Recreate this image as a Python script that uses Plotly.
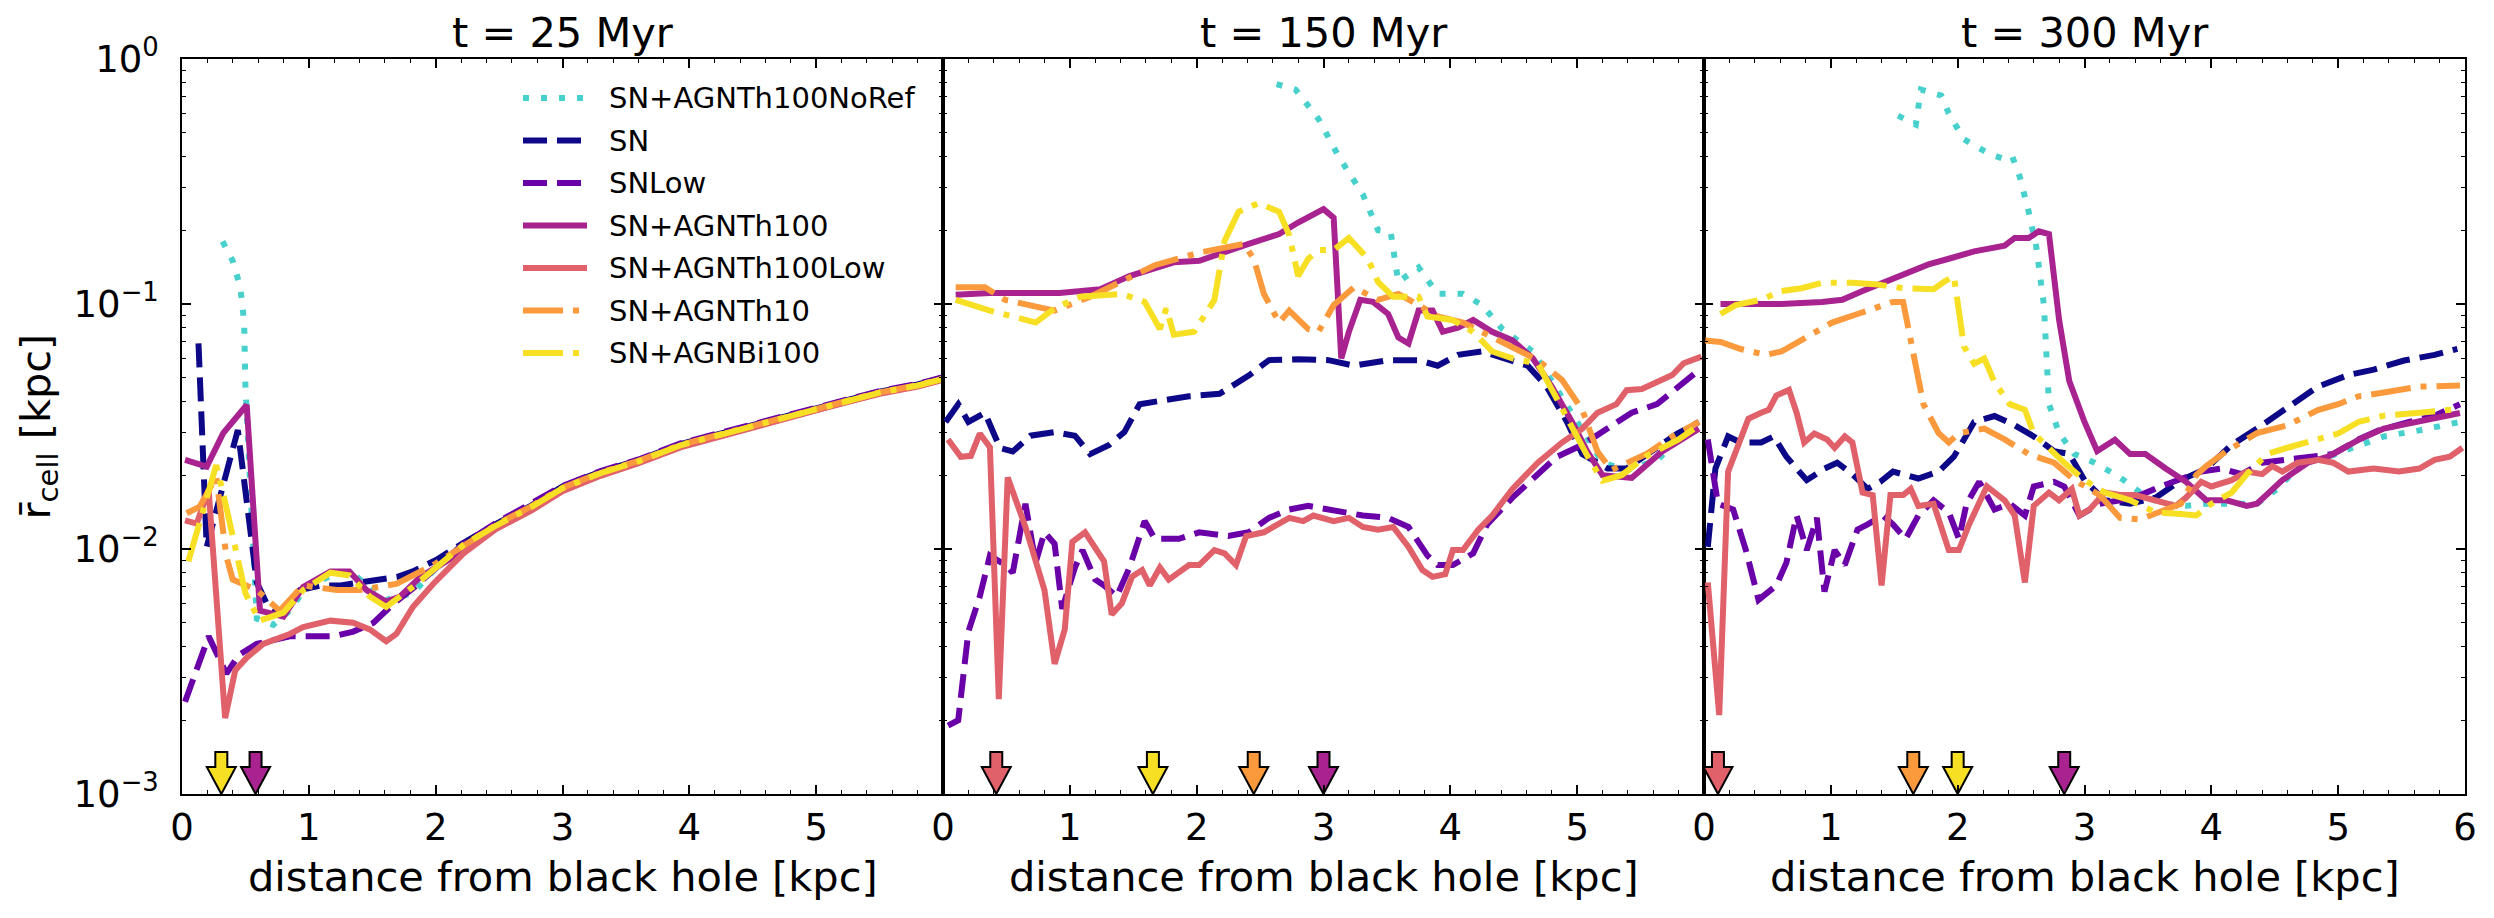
import plotly.graph_objects as go

FONT = "DejaVu Sans"
W, H = 2494, 918
ML, MR, MT, MB = 182, 29, 59, 124
PW = (W - ML - MR) / 3.0
PH = H - MT - MB

# ---------------- series meta ----------------
series_names = ["SN+AGNTh100NoRef", "SN", "SNLow", "SN+AGNTh100",
                "SN+AGNTh100Low", "SN+AGNTh10", "SN+AGNBi100"]
series_colors = ["#48d1cc", "#0d0887", "#6a00a8", "#a82290",
                 "#e0616a", "#fa9a3c", "#f7df24"]
series_dash = ["6px,12px", "24px,10px", "24px,10px", "solid", "solid",
               "40px,10px,6px,10px", "40px,10px,6px,10px"]
panel_titles = ["t = 25 Myr", "t = 150 Myr", "t = 300 Myr"]
x_label = "distance from black hole [kpc]"
y_label = "r\u0304<sub>cell</sub> [kpc]"
x_tick_vals = [[0, 1, 2, 3, 4, 5], [0, 1, 2, 3, 4, 5], [0, 1, 2, 3, 4, 5, 6]]
y_tick_vals = [0.001, 0.01, 0.1, 1.0]
y_tick_text = ["10<sup>\u22123</sup>", "10<sup>\u22122</sup>", "10<sup>\u22121</sup>", "10<sup>0</sup>"]

# ---------------- t = 25 Myr ----------------
t25_NoRef = [(0.32, 0.18), (0.40, 0.15), (0.46, 0.117), (0.49, 0.084), (0.50, 0.046),
             (0.59, 0.0052), (0.72, 0.0049), (0.85, 0.0056), (0.97, 0.0069), (1.22, 0.0080),
             (1.35, 0.0079), (1.48, 0.0070), (1.61, 0.0062), (1.82, 0.0066), (2.04, 0.0088),
             (2.22, 0.0105), (2.48, 0.0125), (2.75, 0.0148), (3.0, 0.0177), (3.3, 0.0204),
             (3.6, 0.0228), (3.93, 0.0265), (4.3, 0.0298), (4.7, 0.0337), (5.1, 0.0385),
             (5.5, 0.0435), (5.8, 0.0465), (6.0, 0.0495)]
t25_SN = [(0.13, 0.069), (0.195, 0.0102), (0.44, 0.0306), (0.59, 0.0073), (0.68, 0.0058),
          (0.77, 0.0055), (0.93, 0.0068), (1.1, 0.0071), (1.25, 0.0071), (1.4, 0.0073),
          (1.56, 0.0075), (1.7, 0.0077), (1.82, 0.0081), (2.0, 0.0090), (2.22, 0.0106),
          (2.48, 0.0127), (2.75, 0.0150), (3.0, 0.0180), (3.3, 0.0207), (3.6, 0.0231),
          (3.93, 0.0268), (4.3, 0.0301), (4.7, 0.0340), (5.1, 0.0389), (5.5, 0.0439),
          (5.8, 0.0470), (6.0, 0.0500)]
t25_SNLow = [(0.024, 0.00238), (0.21, 0.0044), (0.35, 0.0031), (0.45, 0.0037), (0.59, 0.0041),
             (0.85, 0.0044), (1.19, 0.0044), (1.35, 0.0046), (1.51, 0.0050), (1.67, 0.0060),
             (1.82, 0.0069), (1.98, 0.0082), (2.22, 0.0105), (2.48, 0.0128), (2.75, 0.0152),
             (3.0, 0.0181), (3.3, 0.0208), (3.6, 0.0232), (3.93, 0.0270), (4.3, 0.0303),
             (4.7, 0.0343), (5.1, 0.0391), (5.5, 0.0441), (5.8, 0.0472), (6.0, 0.0503)]
t25_Th100 = [(0.024, 0.0231), (0.195, 0.0217), (0.325, 0.0297), (0.51, 0.0387), (0.615, 0.0056),
             (0.8, 0.0053), (0.955, 0.0070), (1.17, 0.0081), (1.32, 0.0081), (1.455, 0.0068),
             (1.61, 0.0061), (1.72, 0.0064), (1.88, 0.0077), (2.09, 0.0090), (2.27, 0.0102),
             (2.48, 0.0123), (2.75, 0.0146), (3.0, 0.0175), (3.3, 0.0202), (3.6, 0.0226),
             (3.93, 0.0263), (4.3, 0.0296), (4.7, 0.0335), (5.1, 0.0383), (5.5, 0.0433),
             (5.8, 0.0463), (6.0, 0.0493)]
t25_Th100Low = [(0.024, 0.0131), (0.116, 0.0127), (0.21, 0.0174), (0.34, 0.00204), (0.42, 0.0032),
                (0.51, 0.0036), (0.64, 0.0041), (0.85, 0.0045), (0.955, 0.0048), (1.17, 0.0051),
                (1.35, 0.0050), (1.48, 0.0047), (1.61, 0.0042), (1.69, 0.0045), (1.82, 0.0058),
                (1.98, 0.0072), (2.22, 0.0096), (2.48, 0.0121), (2.75, 0.0143), (3.0, 0.0172),
                (3.3, 0.0199), (3.6, 0.0224), (3.93, 0.0260), (4.3, 0.0294), (4.7, 0.0333),
                (5.1, 0.0380), (5.5, 0.0430), (5.8, 0.0460), (6.0, 0.0490)]
t25_Th10 = [(0.037, 0.0140), (0.14, 0.0149), (0.27, 0.0197), (0.35, 0.0093), (0.40, 0.0075),
            (0.59, 0.0068), (0.77, 0.0056), (0.955, 0.0071), (1.22, 0.0068), (1.40, 0.0068),
            (1.69, 0.0072), (1.98, 0.0086), (2.17, 0.0099), (2.48, 0.0126), (2.75, 0.0149),
            (3.0, 0.0178), (3.3, 0.0205), (3.6, 0.0229), (3.93, 0.0266), (4.3, 0.0299),
            (4.7, 0.0338), (5.1, 0.0386), (5.5, 0.0436), (5.8, 0.0466), (6.0, 0.0496)]
t25_Bi100 = [(0.05, 0.0089), (0.27, 0.0220), (0.33, 0.0164), (0.50, 0.0066), (0.61, 0.0051),
             (0.80, 0.0055), (0.955, 0.0068), (1.17, 0.0080), (1.32, 0.0078), (1.48, 0.0064),
             (1.61, 0.0058), (1.82, 0.0070), (2.05, 0.0088), (2.22, 0.0104), (2.48, 0.0125),
             (2.75, 0.0148), (3.0, 0.0177), (3.3, 0.0204), (3.6, 0.0228), (3.93, 0.0265),
             (4.3, 0.0298), (4.7, 0.0337), (5.1, 0.0385), (5.5, 0.0435), (5.8, 0.0465), (6.0, 0.0495)]

# ---------------- t = 150 Myr ----------------
t150_NoRef = [(2.63, 0.79), (2.78, 0.75), (2.96, 0.57), (3.12, 0.40), (3.31, 0.28), (3.43, 0.20),
              (3.53, 0.196), (3.59, 0.123), (3.75, 0.141), (3.90, 0.11), (4.10, 0.11), (4.25, 0.099),
              (4.41, 0.079), (4.65, 0.064), (4.80, 0.0485), (4.94, 0.0369), (5.08, 0.028),
              (5.20, 0.0225), (5.39, 0.021), (5.63, 0.023), (5.82, 0.0288), (5.96, 0.032)]
t150_SN = [(0.02, 0.033), (0.12, 0.039), (0.20, 0.033), (0.33, 0.036), (0.45, 0.0258), (0.55, 0.025),
           (0.69, 0.029), (0.88, 0.030), (1.04, 0.029), (1.16, 0.0244), (1.31, 0.0266), (1.43, 0.030),
           (1.55, 0.039), (1.78, 0.041), (1.94, 0.042), (2.18, 0.043), (2.41, 0.051), (2.57, 0.059),
           (2.80, 0.0595), (3.04, 0.059), (3.24, 0.056), (3.51, 0.059), (3.75, 0.059), (3.90, 0.056),
           (4.06, 0.062), (4.25, 0.064), (4.41, 0.060), (4.61, 0.056), (4.76, 0.046), (4.92, 0.033),
           (5.04, 0.0244), (5.24, 0.0213), (5.39, 0.0213), (5.59, 0.025), (5.79, 0.0296), (5.96, 0.033)]
t150_SNLow = [(0.04, 0.0019), (0.12, 0.0020), (0.20, 0.0046), (0.29, 0.0064), (0.37, 0.0094),
              (0.49, 0.0086), (0.55, 0.0080), (0.65, 0.0153), (0.73, 0.0088), (0.80, 0.0117),
              (0.88, 0.0105), (0.94, 0.0057), (1.04, 0.0084), (1.10, 0.0099), (1.20, 0.0075),
              (1.27, 0.0071), (1.37, 0.0064), (1.47, 0.0084), (1.59, 0.0130), (1.67, 0.0110),
              (1.86, 0.0110), (2.02, 0.0117), (2.25, 0.0113), (2.41, 0.0117), (2.57, 0.0134),
              (2.73, 0.0145), (2.88, 0.0150), (3.04, 0.0145), (3.31, 0.0137), (3.51, 0.0134),
              (3.67, 0.0123), (3.82, 0.0094), (3.90, 0.0086), (4.02, 0.0086), (4.18, 0.0096),
              (4.29, 0.0126), (4.49, 0.0162), (4.69, 0.0202), (4.84, 0.0238), (5.04, 0.0266),
              (5.24, 0.031), (5.43, 0.036), (5.63, 0.039), (5.76, 0.0445), (5.90, 0.0513), (5.98, 0.0548)]
t150_Th100 = [(0.10, 0.109), (0.37, 0.111), (0.92, 0.111), (1.24, 0.115), (1.47, 0.13), (1.82, 0.148),
              (2.02, 0.15), (2.22, 0.164), (2.41, 0.176), (2.65, 0.193), (2.80, 0.215), (3.00, 0.244),
              (3.08, 0.225), (3.14, 0.060), (3.20, 0.077), (3.29, 0.104), (3.39, 0.102), (3.51, 0.091),
              (3.59, 0.073), (3.67, 0.069), (3.75, 0.094), (3.86, 0.094), (3.94, 0.077), (4.06, 0.080),
              (4.18, 0.086), (4.33, 0.077), (4.49, 0.071), (4.65, 0.060), (4.80, 0.046), (4.96, 0.033),
              (5.08, 0.025), (5.20, 0.020), (5.43, 0.0195), (5.67, 0.025), (5.96, 0.031)]
t150_Th100Low = [(0.04, 0.028), (0.14, 0.0238), (0.22, 0.024), (0.29, 0.0296), (0.37, 0.026),
                 (0.44, 0.00244), (0.51, 0.0196), (0.65, 0.0123), (0.80, 0.0068), (0.88, 0.0034),
                 (0.96, 0.0047), (1.02, 0.0107), (1.12, 0.0117), (1.27, 0.0089), (1.33, 0.0054),
                 (1.41, 0.0060), (1.49, 0.0077), (1.57, 0.0082), (1.63, 0.0071), (1.71, 0.0084),
                 (1.78, 0.0075), (1.94, 0.0086), (2.02, 0.0086), (2.14, 0.0099), (2.22, 0.0096),
                 (2.31, 0.0086), (2.39, 0.0113), (2.53, 0.0117), (2.73, 0.0134), (2.84, 0.0130),
                 (2.92, 0.0137), (3.08, 0.0130), (3.20, 0.0134), (3.31, 0.0123), (3.43, 0.0120),
                 (3.55, 0.0123), (3.67, 0.0102), (3.78, 0.0082), (3.86, 0.0077), (3.96, 0.0079),
                 (4.02, 0.0099), (4.10, 0.0099), (4.22, 0.0120), (4.33, 0.0137), (4.49, 0.0176),
                 (4.69, 0.0225), (4.88, 0.0272), (5.04, 0.031), (5.16, 0.036), (5.31, 0.039),
                 (5.39, 0.0445), (5.51, 0.045), (5.63, 0.048), (5.75, 0.0513), (5.84, 0.0573), (5.98, 0.061)]
t150_Th10 = [(0.10, 0.117), (0.33, 0.117), (0.49, 0.104), (0.88, 0.094), (1.16, 0.107), (1.35, 0.12),
             (1.67, 0.144), (2.02, 0.162), (2.37, 0.176), (2.45, 0.153), (2.53, 0.11), (2.65, 0.084),
             (2.73, 0.094), (2.88, 0.079), (2.96, 0.077), (3.08, 0.099), (3.24, 0.117), (3.43, 0.104),
             (3.59, 0.11), (3.75, 0.099), (3.90, 0.089), (4.10, 0.084), (4.29, 0.075), (4.49, 0.067),
             (4.69, 0.059), (4.88, 0.049), (5.04, 0.037), (5.16, 0.025), (5.27, 0.021), (5.55, 0.0245),
             (5.75, 0.0288), (5.96, 0.033)]
t150_Bi100 = [(0.10, 0.104), (0.22, 0.099), (0.37, 0.094), (0.73, 0.084), (0.88, 0.096), (1.08, 0.107),
              (1.41, 0.11), (1.59, 0.102), (1.71, 0.079), (1.76, 0.096), (1.82, 0.075), (1.98, 0.077),
              (2.14, 0.104), (2.22, 0.181), (2.33, 0.238), (2.49, 0.258), (2.65, 0.238), (2.73, 0.191),
              (2.80, 0.13), (2.88, 0.153), (2.96, 0.166), (3.08, 0.166), (3.20, 0.186), (3.35, 0.153),
              (3.43, 0.123), (3.55, 0.107), (3.75, 0.107), (3.82, 0.089), (4.02, 0.086), (4.18, 0.077),
              (4.33, 0.064), (4.49, 0.060), (4.69, 0.057), (4.84, 0.041), (4.96, 0.031), (5.08, 0.024),
              (5.20, 0.019), (5.35, 0.020), (5.55, 0.024), (5.80, 0.028), (5.96, 0.032)]

# ---------------- t = 300 Myr ----------------
t300_NoRef = [(1.53, 0.587), (1.67, 0.54), (1.71, 0.75), (1.87, 0.71), (1.93, 0.60), (2.05, 0.47),
              (2.25, 0.41), (2.37, 0.39), (2.43, 0.40), (2.49, 0.33), (2.56, 0.238), (2.62, 0.171),
              (2.68, 0.099), (2.70, 0.057), (2.72, 0.039), (2.80, 0.0297), (2.92, 0.0244), (3.08, 0.0225),
              (3.28, 0.0196), (3.44, 0.017), (3.60, 0.0153), (3.80, 0.015), (3.96, 0.0153), (4.16, 0.0153),
              (4.36, 0.0153), (4.52, 0.0176), (4.72, 0.0225), (4.92, 0.0238), (5.16, 0.0266),
              (5.36, 0.0288), (5.64, 0.0305), (5.96, 0.033)]
t300_SN = [(0.03, 0.0102), (0.09, 0.0213), (0.19, 0.0288), (0.29, 0.0272), (0.45, 0.0272), (0.55, 0.0288),
           (0.65, 0.0238), (0.81, 0.0191), (0.95, 0.0213), (1.05, 0.0225), (1.17, 0.0202), (1.29, 0.0176),
           (1.39, 0.0188), (1.49, 0.0207), (1.69, 0.0194), (1.85, 0.0207), (1.97, 0.0238), (2.13, 0.033),
           (2.29, 0.0349), (2.45, 0.032), (2.60, 0.0288), (2.76, 0.0251), (2.88, 0.0244), (3.00, 0.0191),
           (3.16, 0.0158), (3.36, 0.0153), (3.56, 0.0162), (3.76, 0.0191), (3.96, 0.0213), (4.16, 0.0266),
           (4.36, 0.031), (4.60, 0.0379), (4.84, 0.046), (5.08, 0.0513), (5.28, 0.054), (5.52, 0.0588),
           (5.76, 0.062), (5.94, 0.0656)]
t300_SNLow = [(0.03, 0.028), (0.11, 0.0153), (0.23, 0.0145), (0.33, 0.0099), (0.43, 0.0062), (0.57, 0.0071),
              (0.65, 0.0088), (0.73, 0.0137), (0.81, 0.0099), (0.89, 0.0134), (0.95, 0.0067), (1.03, 0.0099),
              (1.11, 0.0086), (1.21, 0.012), (1.29, 0.0126), (1.41, 0.0137), (1.49, 0.0126), (1.59, 0.011),
              (1.69, 0.0137), (1.81, 0.0158), (1.93, 0.0141), (2.01, 0.011), (2.07, 0.0153), (2.17, 0.0188),
              (2.29, 0.0145), (2.41, 0.0153), (2.53, 0.0137), (2.60, 0.018), (2.76, 0.0188), (2.84, 0.018),
              (2.96, 0.0137), (3.12, 0.0153), (3.28, 0.0158), (3.44, 0.0166), (3.60, 0.018), (3.76, 0.0194),
              (3.92, 0.0207), (4.08, 0.0213), (4.24, 0.0202), (4.40, 0.0225), (4.56, 0.0231), (4.76, 0.0238),
              (4.96, 0.0244), (5.16, 0.028), (5.32, 0.0305), (5.56, 0.033), (5.76, 0.035), (5.96, 0.039)]
t300_Th100 = [(0.13, 0.100), (0.61, 0.100), (0.93, 0.102), (1.09, 0.104), (1.25, 0.113), (1.53, 0.13),
              (1.77, 0.145), (1.93, 0.153), (2.13, 0.164), (2.37, 0.173), (2.45, 0.186), (2.56, 0.186),
              (2.64, 0.198), (2.72, 0.193), (2.80, 0.086), (2.88, 0.0485), (3.00, 0.033), (3.10, 0.0251),
              (3.24, 0.0279), (3.36, 0.0244), (3.48, 0.0244), (3.64, 0.0213), (3.80, 0.0188), (3.96, 0.0158),
              (4.12, 0.0158), (4.28, 0.015), (4.36, 0.0153), (4.56, 0.0191), (4.76, 0.0225), (4.92, 0.0238),
              (5.16, 0.0279), (5.36, 0.031), (5.64, 0.033), (5.96, 0.0359)]
t300_Th100Low = [(0.03, 0.0073), (0.12, 0.0021), (0.19, 0.0207), (0.35, 0.034), (0.45, 0.036), (0.51, 0.037),
                 (0.57, 0.0423), (0.67, 0.0446), (0.73, 0.036), (0.79, 0.0272), (0.87, 0.0296), (0.97, 0.028),
                 (1.03, 0.0259), (1.11, 0.0288), (1.17, 0.0272), (1.25, 0.017), (1.33, 0.0166), (1.40, 0.0071),
                 (1.47, 0.0166), (1.57, 0.0166), (1.63, 0.0176), (1.69, 0.015), (1.81, 0.0153), (1.93, 0.0099),
                 (2.01, 0.0099), (2.09, 0.0126), (2.23, 0.018), (2.37, 0.0158), (2.45, 0.0137), (2.53, 0.0073),
                 (2.60, 0.015), (2.72, 0.017), (2.80, 0.0158), (2.90, 0.0176), (2.96, 0.0137), (3.04, 0.0145),
                 (3.16, 0.017), (3.28, 0.0166), (3.40, 0.0166), (3.56, 0.0158), (3.72, 0.015), (3.80, 0.0162),
                 (3.92, 0.0188), (4.00, 0.018), (4.16, 0.0191), (4.28, 0.0207), (4.40, 0.0202), (4.48, 0.0218),
                 (4.56, 0.0207), (4.68, 0.0225), (4.84, 0.0231), (4.96, 0.0225), (5.08, 0.0207), (5.28, 0.0213),
                 (5.48, 0.0207), (5.64, 0.0213), (5.76, 0.0231), (5.88, 0.0238), (5.98, 0.0259)]
t300_Th10 = [(0.01, 0.071), (0.13, 0.070), (0.29, 0.0655), (0.49, 0.062), (0.61, 0.064), (0.81, 0.073),
             (1.01, 0.084), (1.21, 0.091), (1.49, 0.102), (1.57, 0.102), (1.65, 0.064), (1.73, 0.039),
             (1.85, 0.0297), (1.93, 0.0272), (2.01, 0.0297), (2.21, 0.031), (2.37, 0.028), (2.56, 0.0244),
             (2.76, 0.0225), (2.92, 0.0191), (3.12, 0.0166), (3.28, 0.0134), (3.44, 0.0132), (3.64, 0.0145),
             (3.76, 0.0153), (3.88, 0.020), (3.96, 0.0218), (4.12, 0.0251), (4.36, 0.0297), (4.60, 0.032),
             (4.84, 0.0369), (5.0, 0.039), (5.16, 0.042), (5.36, 0.0435), (5.64, 0.046), (5.96, 0.0465)]
t300_Bi100 = [(0.13, 0.091), (0.25, 0.099), (0.45, 0.104), (0.61, 0.113), (0.77, 0.116), (0.93, 0.122),
              (1.17, 0.122), (1.37, 0.12), (1.57, 0.116), (1.81, 0.115), (1.89, 0.123), (1.97, 0.13),
              (2.05, 0.067), (2.13, 0.057), (2.21, 0.06), (2.29, 0.048), (2.41, 0.039), (2.53, 0.037),
              (2.60, 0.0296), (2.68, 0.027), (2.84, 0.0225), (3.0, 0.0191), (3.16, 0.017), (3.36, 0.0158),
              (3.56, 0.0141), (3.76, 0.0139), (3.88, 0.0137), (4.0, 0.0153), (4.16, 0.017), (4.28, 0.0202),
              (4.44, 0.0244), (4.60, 0.0259), (4.76, 0.0272), (5.0, 0.0296), (5.16, 0.033), (5.36, 0.035),
              (5.64, 0.036), (5.96, 0.0373)]

# arrow markers (position along x, series index)
t25_arrows = [(0.31, 6), (0.58, 3)]
t150_arrows = [(0.42, 4), (1.655, 6), (2.45, 5), (3.0, 3)]
t300_arrows = [(0.11, 4), (1.65, 5), (2.0, 6), (2.84, 3)]

panels = [
    [t25_NoRef, t25_SN, t25_SNLow, t25_Th100, t25_Th100Low, t25_Th10, t25_Bi100],
    [t150_NoRef, t150_SN, t150_SNLow, t150_Th100, t150_Th100Low, t150_Th10, t150_Bi100],
    [t300_NoRef, t300_SN, t300_SNLow, t300_Th100, t300_Th100Low, t300_Th10, t300_Bi100],
]
panel_arrows = [t25_arrows, t150_arrows, t300_arrows]

LW = 6
fig = go.Figure()

# arrow shape in pixels relative to the tip (dx, dy up)
ARROW_PX = [(0, 0), (-14.5, 27), (-6, 27), (-6, 42), (6, 42), (6, 27), (14.5, 27), (0, 0)]
X_PER_PX = 6.0 / PW
DEC_PER_PX = 3.0 / PH

for p in range(3):
    xa = "x" if p == 0 else f"x{p+1}"
    ya = "y" if p == 0 else f"y{p+1}"
    for s, pts in enumerate(panels[p]):
        fig.add_trace(go.Scatter(
            x=[a for a, b in pts], y=[b for a, b in pts], mode="lines",
            name=series_names[s], showlegend=False, xaxis=xa, yaxis=ya,
            line=dict(color=series_colors[s], width=LW, dash=series_dash[s]),
        ))
    for x0, s in panel_arrows[p]:
        fig.add_trace(go.Scatter(
            x=[x0 + dx * X_PER_PX for dx, dy in ARROW_PX],
            y=[10 ** (-3 + dy * DEC_PER_PX) for dx, dy in ARROW_PX],
            mode="lines", fill="toself", fillcolor=series_colors[s],
            line=dict(color="black", width=2), showlegend=False, hoverinfo="skip",
            xaxis=xa, yaxis=ya,
        ))

TICK_FS = 37
LABEL_FS = 41.5
LEGEND_FS = 29
axis_common = dict(showline=True, linecolor="black", linewidth=1.5, mirror="allticks",
                   ticks="inside", ticklen=9, tickwidth=1.5, tickcolor="black",
                   showgrid=False, zeroline=False,
                   tickfont=dict(family=FONT, size=TICK_FS, color="black"))

x_minor = [i * 0.2 for i in range(31) if i % 5 != 0]
y_minor = [m * 10 ** e for e in (-3, -2, -1) for m in range(2, 10)]

layout = dict(
    width=W, height=H, margin=dict(l=ML, r=MR, t=MT, b=MB),
    plot_bgcolor="white", paper_bgcolor="white",
    font=dict(family=FONT, size=36, color="black"),
    showlegend=False,
)
for p in range(3):
    kx = "xaxis" if p == 0 else f"xaxis{p+1}"
    ky = "yaxis" if p == 0 else f"yaxis{p+1}"
    layout[kx] = dict(axis_common, domain=[p / 3, (p + 1) / 3], range=[0, 6],
                      anchor="y" if p == 0 else f"y{p+1}",
                      tickvals=x_tick_vals[p], ticktext=[str(v) for v in x_tick_vals[p]],
                      ticklabelstandoff=0,
                      minor=dict(tickvals=x_minor, ticks="inside", ticklen=4.5, tickwidth=1.2,
                                 tickcolor="black", showgrid=False))
    layout[ky] = dict(axis_common, domain=[0, 1], type="log", range=[-3, 0],
                      anchor="x" if p == 0 else f"x{p+1}",
                      tickvals=y_tick_vals, ticktext=y_tick_text,
                      showticklabels=(p == 0), ticklabelstandoff=14,
                      minor=dict(tickvals=y_minor, ticks="inside", ticklen=4.5, tickwidth=1.2,
                                 tickcolor="black", showgrid=False))
fig.update_layout(**layout)

# panel titles and x labels
for p in range(3):
    dom = ("x" if p == 0 else f"x{p+1}") + " domain"
    fig.add_annotation(text=panel_titles[p], xref=dom, x=0.5, yref="paper", y=1.0,
                       yanchor="bottom", yshift=0, showarrow=False,
                       font=dict(family=FONT, size=LABEL_FS, color="black"))
    fig.add_annotation(text=x_label, xref=dom, x=0.5, yref="paper", y=0.0,
                       yanchor="middle", yshift=-(876 - (H - MB)), showarrow=False,
                       font=dict(family=FONT, size=LABEL_FS, color="black"))

# y label
fig.add_annotation(text=y_label, xref="paper", x=(38 - ML) / (W - ML - MR), xanchor="center",
                   yref="paper", y=0.5, yanchor="middle", textangle=-90, showarrow=False,
                   font=dict(family=FONT, size=LABEL_FS, color="black"))

# legend drawn inside the first panel
LEG_X0, LEG_X1, LEG_TX = 523, 587, 607
LEG_Y0, LEG_DY = 98, 42.5
for s, name in enumerate(series_names):
    py = LEG_Y0 + LEG_DY * s
    yd = 1 - (py - MT) / PH
    fig.add_shape(type="line", xref="x domain", yref="y domain",
                  x0=(LEG_X0 - ML) / PW, x1=(LEG_X1 - ML) / PW, y0=yd, y1=yd,
                  line=dict(color=series_colors[s], width=LW, dash=series_dash[s]))
    fig.add_annotation(text=name, xref="x domain", yref="y domain",
                       x=(LEG_TX - ML) / PW, y=yd, xanchor="left", yanchor="middle",
                       showarrow=False, font=dict(family=FONT, size=LEGEND_FS, color="black"))

fig.write_html("out.html")
